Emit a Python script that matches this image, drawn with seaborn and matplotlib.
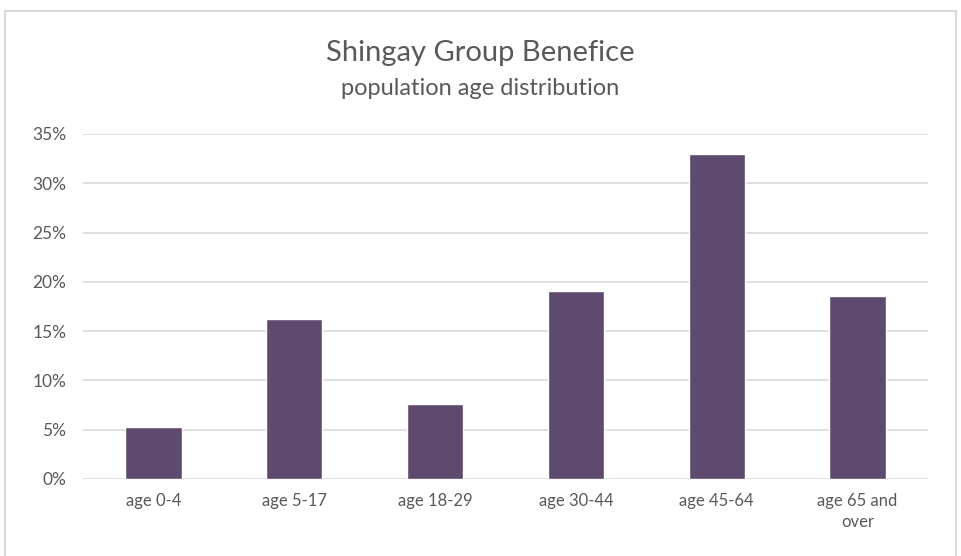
import matplotlib
matplotlib.use('Agg')
import matplotlib.pyplot as plt
from matplotlib.patches import Rectangle
from matplotlib.ticker import PercentFormatter
import seaborn as sns
import pandas as pd

categories = ['age 0-4', 'age 5-17', 'age 18-29', 'age 30-44', 'age 45-64', 'age 65 and\nover']
share = [5.3, 16.25, 7.65, 19.05, 32.95, 18.55]

df = pd.DataFrame({'age': categories, 'share': share})

sns.set_theme(style='white')
plt.rcParams['font.family'] = ['Lato', 'DejaVu Sans']
text_col = '#595959'

fig = plt.figure(figsize=(9.61, 5.56), dpi=100)
ax = fig.add_axes([0.0864, 0.1385, 0.8793, 0.6205])

sns.barplot(data=df, x='age', y='share', color='#5e4a6e', saturation=1, width=0.4, ax=ax)

ax.set_ylim(0, 35)
ax.set_yticks(range(0, 36, 5))
ax.yaxis.set_major_formatter(PercentFormatter(decimals=0))
ax.grid(axis='y', color='#d9d9d9', linewidth=1.2)
ax.set_axisbelow(True)
for s in ax.spines.values():
    s.set_visible(False)
ax.set_xlabel('')
ax.set_ylabel('')
ax.tick_params(axis='both', length=0, colors=text_col)
ax.tick_params(axis='x', pad=10, labelsize=12)
ax.tick_params(axis='y', pad=12, labelsize=12.5)
for lab in ax.get_xticklabels():
    lab.set_linespacing(1.4)

fig.text(0.5, 0.905, 'Shingay Group Benefice', ha='center', va='center', fontsize=21, color=text_col)
fig.text(0.5, 0.840, 'population age distribution', ha='center', va='center', fontsize=17, color=text_col)

fig.patches.append(Rectangle((0.005, -0.01), 0.99, 0.99, transform=fig.transFigure,
                             fill=False, edgecolor='#d9d9d9', linewidth=1.5))

fig.savefig('out.png', dpi=100)
